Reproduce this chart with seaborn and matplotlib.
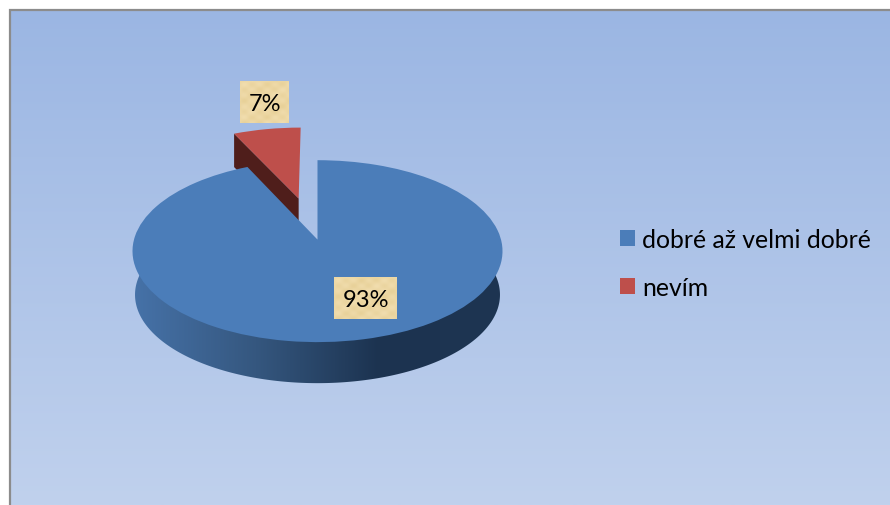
import matplotlib
matplotlib.use('Agg')
import matplotlib.pyplot as plt
import numpy as np
import seaborn as sns
from matplotlib.patches import Patch, Polygon
from matplotlib.transforms import Transform

names = ['dobré až velmi dobré', 'nevím']
shares = [93, 7]
explode = [0, 0.5]
slice_colors = ['#4B7DB9', '#BE4F4B']
side_colors = ['#4672A8', '#35577F', '#1C3350', '#1E3552']
red_side = '#4F1E1B'
bg_colors = ['#9BB6E3', '#C0D1ED']
label_colors = ['#E8D199', '#F1DDAE']
label_xy = [(365.5, 299), (264.5, 103)]
label_half_width = [31.5, 24.5]


class TiltTransform(Transform):
    """Projects the unit pie plane onto the page, far edge shrunk."""
    input_dims = 2
    output_dims = 2
    is_separable = False
    has_inverse = False

    def __init__(self, cx, cy, a, b, k):
        super().__init__()
        self.cx, self.cy, self.a, self.b, self.k = cx, cy, a, b, k

    def transform_non_affine(self, values):
        values = np.asarray(values, dtype=float)
        w = 1 + self.k * values[:, 1]
        return np.column_stack([self.cx + self.a * values[:, 0] / w,
                                self.cy - self.b * values[:, 1] / w])


sns.set_style('white')
plt.rcParams['font.family'] = ['Lato', 'DejaVu Sans']

fig = plt.figure(figsize=(8.9, 5.06), dpi=100, facecolor='white')
ax = fig.add_axes([0, 0, 1, 1])

# chart area background
bg_cmap = sns.blend_palette(bg_colors, as_cmap=True)
ax.imshow(np.linspace(0, 1, 256).reshape(-1, 1), cmap=bg_cmap, aspect='auto',
          extent=(10, 890, 506, 11), zorder=0)
ax.plot([10, 10, 890], [506, 11, 11], color='#8C8C8C', lw=1.6, zorder=1,
        solid_joinstyle='miter')

top_plane = TiltTransform(317.5, 240.6, 183.5, 89.5, 0.127)
low_plane = TiltTransform(317.5, 284.5, 181, 87, 0.127)

# red slice side wall, behind the blue disc
red_angle = np.deg2rad(360 * shares[1] / sum(shares))
bis = red_angle / 2
apex = np.array([-np.sin(bis), np.cos(bis)]) * explode[1]
outer = apex + np.array([-np.sin(red_angle), np.cos(red_angle)])
red_low = TiltTransform(317.5, 274, 183.5, 89.5, 0.127)
quad = np.vstack([top_plane.transform_non_affine(np.array([outer, apex])),
                  red_low.transform_non_affine(np.array([apex, outer]))])
ax.add_patch(Polygon(quad, closed=True, facecolor=red_side, edgecolor='none', zorder=2))

# blue rim with its left to right shading
theta = np.linspace(np.pi * 0.96, np.pi * 2.04, 200)
front = low_plane.transform_non_affine(np.column_stack([np.cos(theta), np.sin(theta)]))
top_ends = top_plane.transform_non_affine(np.array([[0.985, -0.13], [-0.985, -0.13]]))
rim = Polygon(np.vstack([front, top_ends]), closed=True, transform=ax.transData,
              facecolor='none', edgecolor='none')
ax.add_patch(rim)
side_cmap = sns.blend_palette(side_colors, as_cmap=True)
side_img = ax.imshow(np.linspace(0, 1, 256).reshape(1, -1), cmap=side_cmap, aspect='auto',
                     extent=(133, 502, 390, 240), zorder=3)
side_img.set_clip_path(rim)

wedges, _ = ax.pie(shares, colors=slice_colors, startangle=90, counterclock=False,
                   explode=explode, wedgeprops={'linewidth': 0, 'zorder': 4})
for wedge in wedges:
    wedge.set_transform(top_plane + ax.transData)

# parchment look label boxes
label_cmap = sns.blend_palette(label_colors, as_cmap=True)
grid_y, grid_x = np.mgrid[0:42, 0:64]
mottle = np.sin(grid_x * 0.41) * np.sin(grid_y * 0.57) + 0.5 * np.sin(grid_x * 0.13 + grid_y * 0.23)
for value, (x, y), half in zip(shares, label_xy, label_half_width):
    ax.imshow(mottle[:, :int(half * 2)], cmap=label_cmap, aspect='auto', zorder=5,
              extent=(x - half, x + half, y + 21, y - 21), interpolation='bilinear')
    ax.text(x, y + 1.5, f'{value}%', fontsize=17, ha='center', va='center', color='black', zorder=6)

ax.set_aspect('auto')
ax.set_xlim(0, 890)
ax.set_ylim(506, 0)
ax.axis('off')

handles = [Patch(facecolor=c, edgecolor='none') for c in slice_colors]
ax.legend(handles, names, loc='upper left', bbox_to_anchor=(620, 228.5),
          bbox_transform=ax.transData, frameon=False, fontsize=17.8,
          handlelength=0.61, handleheight=0.61, handletextpad=0.3,
          labelspacing=1.02, borderpad=0, borderaxespad=0, labelcolor='black')

fig.savefig('out.png', dpi=100)
